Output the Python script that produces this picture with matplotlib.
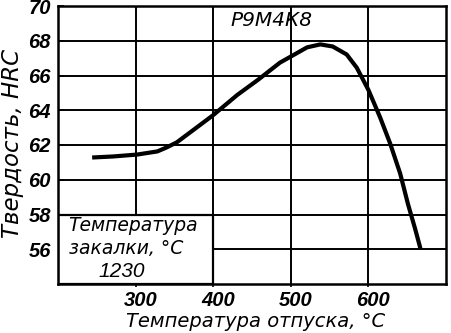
import matplotlib
matplotlib.use("Agg")
import matplotlib.pyplot as plt
import matplotlib.transforms as mtransforms
from matplotlib.patches import Rectangle

# твердость стали Р9М4К8 после отпуска
temp = [244, 271, 302, 328, 340, 353, 374, 400, 431, 458, 486, 500,
        521, 538, 554, 572, 585, 600, 615, 628, 641, 651, 660, 667]
hrc = [61.28, 61.34, 61.45, 61.63, 61.86, 62.15, 62.85, 63.72, 64.88,
       65.76, 66.74, 67.09, 67.62, 67.79, 67.67, 67.21, 66.45, 65.17,
       63.60, 62.09, 60.35, 58.60, 57.21, 56.05]

x_ticks = [300, 400, 500, 600]
y_ticks = [56, 58, 60, 62, 64, 66, 68, 70]
grid_x = [300, 400, 500, 600]
grid_y = [56, 58, 60, 62, 64, 66, 68]

steel = "Р9М4К8"
quench_lines = ["Температура", "закалки, °С"]
quench_temp = "1230"

num_font = dict(family="Liberation Sans", style="italic", weight="bold", size=14.5)
txt_font = dict(family="DejaVu Sans", style="italic", size=14)
box_font = dict(family="DejaVu Sans", style="italic", size=13.5)

fig = plt.figure(figsize=(4.51, 3.33), dpi=100)
ax = fig.add_axes([58 / 451, 49 / 333, 388 / 451, 278 / 333])

ax.set_xlim(200, 700)
ax.set_ylim(54, 70)

# сетка
for gx in grid_x:
    ax.axvline(gx, color="black", lw=1.4, zorder=1)
for gy in grid_y:
    ax.axhline(gy, color="black", lw=1.4, zorder=1)

# рамка с температурой закалки
ax.add_patch(Rectangle((200, 54), 200, 4, facecolor="white", edgecolor="black",
                       lw=1.6, zorder=2))
ax.text(297, 57.34, quench_lines[0], ha="center", va="center", zorder=3, **box_font)
ax.text(288, 56.07, quench_lines[1], ha="center", va="center", zorder=3, **box_font)
ax.text(282, 54.72, quench_temp, ha="center", va="center", zorder=3,
        family="Liberation Sans", style="italic", size=15)

ax.plot(temp, hrc, color="black", lw=3.0, solid_capstyle="butt", zorder=4)

ax.text(475, 69.15, steel, ha="center", va="center", family="DejaVu Sans",
        style="italic", size=14.5, zorder=3)

for s in ax.spines.values():
    s.set_linewidth(1.8)
    s.set_zorder(5)

ax.set_xticks(x_ticks)
ax.set_yticks(y_ticks)
ax.set_xticklabels([str(v) for v in x_ticks], fontdict=num_font)
ax.set_yticklabels([str(v) for v in y_ticks], fontdict=num_font)
ax.tick_params(axis="x", direction="out", length=2.5, width=1.2, pad=2.5)
ax.tick_params(axis="y", direction="in", length=4.5, width=1.2, pad=5)

shift = mtransforms.ScaledTranslation(5 / 100, 0, fig.dpi_scale_trans)
for lbl in ax.get_xticklabels():
    lbl.set_transform(lbl.get_transform() + shift)

ax.set_xlabel("Температура отпуска, °С", va="center", **txt_font)
ax.xaxis.set_label_coords(0.51, -0.134)
ax.set_ylabel("Твердость, HRC", va="center", family="DejaVu Sans",
              style="italic", size=16.5)
ax.yaxis.set_label_coords(-0.118, 0.507)

fig.savefig("out.png", dpi=100)
